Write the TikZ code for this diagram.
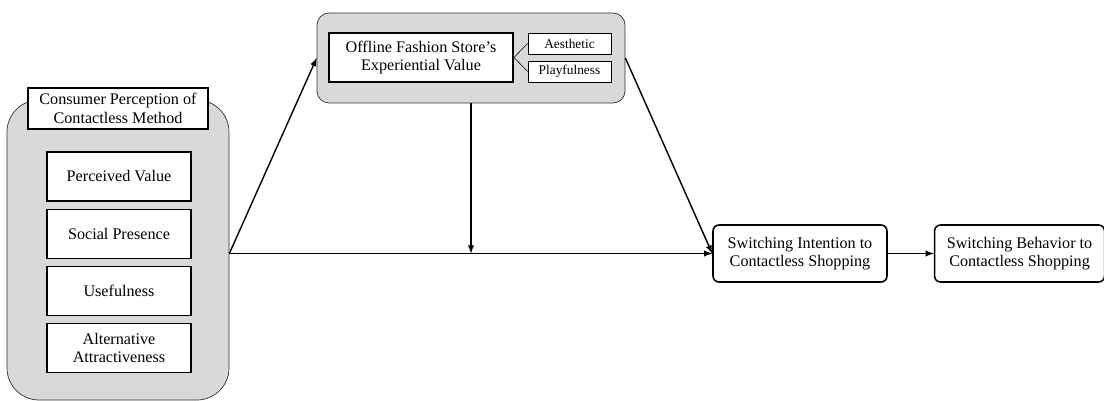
\documentclass[tikz,border=0pt]{standalone}
\usepackage{fontspec}
\setmainfont{Liberation Serif}
\usepackage{tikz}
\usetikzlibrary{positioning,shapes,arrows}
\tikzstyle{group} = [rectangle, draw=black!80, fill=gray!30, line width=0.5pt]
\tikzstyle{title} = [rectangle, draw, fill=white, line width=1.4pt, align=center, font=\fontsize{11.5}{13}\selectfont]
\tikzstyle{item} = [rectangle, draw, fill=white, line width=0.9pt, align=center, minimum width=3.6cm, minimum height=1.225cm, font=\fontsize{11.5}{13}\selectfont]
\tikzstyle{sub} = [rectangle, draw, fill=white, line width=0.5pt, minimum width=2.075cm, minimum height=0.525cm, inner sep=1pt, font=\fontsize{9.5}{10}\selectfont]
\tikzstyle{block} = [rectangle, draw, rounded corners=0.15cm, line width=1.1pt, align=center, minimum height=1.425cm, font=\fontsize{11.5}{13}\selectfont]

\begin{document}
\begin{tikzpicture}[node distance=1.43cm, auto, >=latex, line width=1pt]
\useasboundingbox (0,0) rectangle (27.6,-10.025);
% left group
\node[group, rounded corners=0.8cm, minimum width=5.55cm, minimum height=7.5cm] (percgrp) at (2.95,-6.25) {};
\node[title, minimum width=4.5cm, minimum height=1.025cm] (perc) at (2.95,-2.7125) {Consumer Perception of\\Contactless Method};
\node[item] (value) at (2.975,-4.4125) {Perceived Value};
\node[item, below of=value] (social) {Social Presence};
\node[item, below of=social] (useful) {Usefulness};
\node[item, below of=useful] (altern) {Alternative\\Attractiveness};
% top group
\node[group, rounded corners=0.3cm, minimum width=7.7cm, minimum height=2.25cm] (storegrp) at (11.775,-1.45) {};
\node[title, minimum width=4.6cm, minimum height=1.225cm] (store) at (10.525,-1.4375) {Offline Fashion Store's\\Experiential Value};
\node[sub] (aesth) at (14.2375,-1.0875) {Aesthetic};
\node[sub] (playful) at (14.2375,-1.7875) {Playfulness};
\draw[line width=0.4pt] (store.east) -- (aesth.west);
\draw[line width=0.4pt] (store.east) -- (playful.west);
% outcomes
\node[block, minimum width=4.35cm] (intent) at (20.0,-6.3375) {Switching Intention to\\Contactless Shopping};
\node[block, minimum width=4.25cm, right=1.15cm of intent] (behav) {Switching Behavior to\\Contactless Shopping};
% paths
\coordinate (start) at (percgrp.east |- intent.west);
\coordinate (join) at (storegrp.south |- intent.west);
\draw[->] (start) -- (intent.west);
\draw[->] (start) -- (storegrp.west);
\draw[->] (storegrp.east) -- (intent.west);
\draw[->] (storegrp.south) -- (join);
\draw[->] (intent) -- (behav);
\end{tikzpicture}
\end{document}
